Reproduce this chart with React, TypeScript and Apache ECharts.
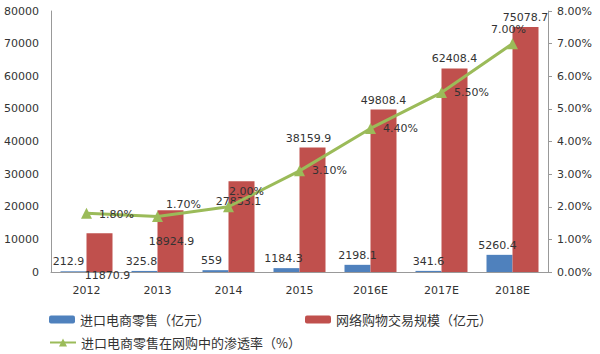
import React, { useEffect, useRef } from "react";
import * as echarts from "echarts";

const categories = ["2012", "2013", "2014", "2015", "2016E", "2017E", "2018E"];
const importRetail = [212.9, 325.8, 559, 1184.3, 2198.1, 341.6, 5260.4];
const onlineShopping = [11870.9, 18924.9, 27833.1, 38159.9, 49808.4, 62408.4, 75078.7];
const penetration = [1.8, 1.7, 2.0, 3.1, 4.4, 5.5, 7.0];

const seriesNames = ["进口电商零售（亿元）", "网络购物交易规模（亿元）", "进口电商零售在网购中的渗透率（%）"];

const numFont = "DejaVu Sans";
const textColor = "#333333";

export default function App() {
  const ref = useRef<HTMLDivElement>(null);
  useEffect(() => {
    if (!ref.current) return;
    const chart = echarts.init(ref.current, null, { renderer: "svg" });

    const blueLabelOffsets: number[][] = [[-5, 0], [-3, 0], [-4, 0], [-3, 0], [0, 0], [0, 0], [-2, 0]];
    const redLabels: any[] = [
      { position: "bottom", offset: [8, -6] },
      { position: "inside", offset: [1, 0] },
      { position: "insideTop", offset: [-3, 11] },
      { position: "top", offset: [-4, 0] },
      { position: "top", offset: [0, 0] },
      { position: "top", offset: [0, 0] },
      { position: "top", offset: [0, 0] },
    ];
    const lineLabels: any[] = [
      { position: "right", offset: [2, 1] },
      { position: "right", offset: [-2, -12] },
      { position: "top", offset: [18, 1] },
      { position: "right", offset: [2, 0] },
      { position: "right", offset: [2, 0] },
      { position: "right", offset: [2, 0] },
      { position: "top", offset: [-4, 2] },
    ];

    chart.setOption({
      animation: false,
      backgroundColor: "#ffffff",
      grid: { left: 51, right: 52, top: 11, bottom: 82 },
      legend: [
        {
          data: [seriesNames[0]],
          left: 44,
          top: 308,
          itemWidth: 26,
          itemHeight: 8,
          itemGap: 4,
          textStyle: { fontFamily: "Noto Sans CJK SC", fontSize: 13, color: textColor },
        },
        {
          data: [seriesNames[1]],
          left: 300,
          top: 308,
          itemWidth: 26,
          itemHeight: 8,
          textStyle: { fontFamily: "Noto Sans CJK SC", fontSize: 13, color: textColor },
        },
        {
          data: [seriesNames[2]],
          left: 44,
          top: 331,
          itemWidth: 26,
          itemHeight: 10,
          textStyle: { fontFamily: "Noto Sans CJK SC", fontSize: 13, color: textColor },
        },
      ],
      xAxis: {
        type: "category",
        data: categories,
        axisLine: { lineStyle: { color: "#999999", width: 1 } },
        axisTick: { show: false },
        axisLabel: { fontFamily: numFont, fontSize: 11, color: textColor, margin: 13 },
      },
      yAxis: [
        {
          type: "value",
          min: 0,
          max: 80000,
          interval: 10000,
          splitLine: { show: false },
          axisLine: { show: true, lineStyle: { color: "#999999", width: 1 } },
          axisTick: { show: false },
          axisLabel: {
            fontFamily: numFont,
            fontSize: 11,
            color: textColor,
            margin: 12,
            formatter: (v: number) => String(v),
          },
        },
        {
          type: "value",
          min: 0,
          max: 8,
          interval: 1,
          position: "right",
          splitLine: { show: false },
          axisLine: { show: true, lineStyle: { color: "#999999", width: 1 } },
          axisTick: { show: true, length: 4, lineStyle: { color: "#999999" } },
          axisLabel: {
            fontFamily: numFont,
            fontSize: 11,
            color: textColor,
            margin: 9,
            formatter: (v: number) => v.toFixed(2) + "%",
          },
        },
      ],
      series: [
        {
          name: seriesNames[0],
          type: "bar",
          data: importRetail.map((v, i) => ({
            value: v,
            label: { offset: blueLabelOffsets[i] },
          })),
          barWidth: 26,
          barGap: "0%",
          itemStyle: { color: "#4F81BD" },
          label: {
            show: true,
            position: "top",
            distance: 4,
            fontFamily: numFont,
            fontSize: 11,
            color: textColor,
          },
        },
        {
          name: seriesNames[1],
          type: "bar",
          data: onlineShopping.map((v, i) => ({
            value: v,
            label: redLabels[i],
          })),
          barWidth: 26,
          barGap: "0%",
          itemStyle: { color: "#C0504D" },
          label: {
            show: true,
            position: "top",
            distance: 4,
            fontFamily: numFont,
            fontSize: 11,
            color: textColor,
          },
        },
        {
          name: seriesNames[2],
          type: "line",
          yAxisIndex: 1,
          data: penetration.map((v, i) => ({
            value: v,
            label: lineLabels[i],
          })),
          symbol: "triangle",
          symbolSize: 11,
          lineStyle: { color: "#9BBB59", width: 3 },
          itemStyle: { color: "#9BBB59" },
          label: {
            show: true,
            fontFamily: numFont,
            fontSize: 11,
            color: textColor,
            formatter: (p: any) => Number(p.value).toFixed(2) + "%",
          },
        },
      ],
    });
    return () => chart.dispose();
  }, []);
  return <div ref={ref} style={{ width: 600, height: 354, position: "absolute", left: 0, top: 0 }} />;
}
